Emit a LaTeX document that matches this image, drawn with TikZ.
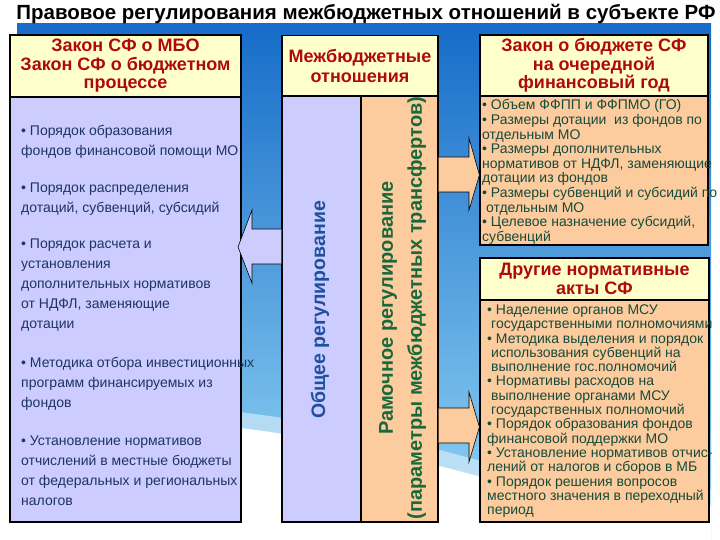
\documentclass[tikz,border=0pt]{standalone}
\usepackage{fontspec}
\setmainfont{Liberation Sans}
\usetikzlibrary{positioning,calc}
\definecolor{hdryellow}{RGB}{255,255,204}
\definecolor{lilac}{RGB}{204,204,255}
\definecolor{peach}{RGB}{253,204,158}
\definecolor{hdrred}{RGB}{175,10,10}
\definecolor{txtblue}{RGB}{30,52,100}
\definecolor{txtgreen}{RGB}{22,74,58}
\definecolor{genblue}{RGB}{30,80,160}
\definecolor{framegreen}{RGB}{25,105,60}
\definecolor{skytop}{RGB}{22,108,200}
\definecolor{skymid}{RGB}{60,152,225}
\definecolor{skybot}{RGB}{150,215,246}

\begin{document}
\begin{tikzpicture}[x=1pt,y=-1pt,
    box/.style={draw=black,line width=1.2pt,inner sep=0pt},
    hdr/.style={box,fill=hdryellow,text=hdrred,align=center,
      font=\fontsize{18}{18.5}\selectfont\bfseries},
    item/.style={anchor=north west,inner sep=0pt,align=left,text=txtblue,
      font=\fontsize{14}{20}\selectfont},
    ritem/.style={anchor=north west,inner sep=0pt,align=left,text=txtgreen,
      font=\fontsize{14}{14.6}\selectfont},
    arrowline/.style={draw=black,line width=0.6pt}]
        \useasboundingbox (0,0) rectangle (720,540);

        % background
        \shade[top color=skytop,middle color=skymid,bottom color=skybot] (17,24) rectangle (711,540);
        \fill[white,opacity=0.45] (17,405) .. controls (150,396) and (300,412) .. (470,458)
            .. controls (560,482) and (650,488) .. (711,490) -- (711,540) -- (17,540) -- cycle;
        \fill[white] (17,420) .. controls (150,412) and (300,428) .. (470,474)
            .. controls (560,498) and (650,504) .. (711,506) -- (711,540) -- (17,540) -- cycle;

        \node[font=\fontsize{20.5}{22}\selectfont\bfseries] (title) at (366,14)
            {Правовое регулирования межбюджетных отношений в субъекте РФ};

        % left column
        \node[hdr,minimum width=231pt,minimum height=62pt] (lawhdr) at (125.5,66)
            {Закон СФ о МБО\\Закон СФ о бюджетном\\процессе};
        \node[box,fill=lilac,minimum width=231pt,minimum height=425pt] (lawbody) at (125.5,309.5) {};

        % middle column
        \node[hdr,minimum width=156pt,minimum height=61pt,
              font=\fontsize{18}{20}\selectfont\bfseries] (mbhdr) at (360,66) {Межбюджетные\\отношения};
        \node[box,fill=lilac,rotate=90,minimum width=426pt,minimum height=79pt] (gen) at (321.5,309) {};
        \node[box,fill=peach,rotate=90,minimum width=426pt,minimum height=77pt] (frame) at (399.5,309) {};
        \node[rotate=90,text=genblue,font=\fontsize{19.5}{20}\selectfont\bfseries] (gentext) at (320,310)
            {Общее регулирование};
        \node[rotate=90,text=framegreen,align=center,font=\fontsize{20}{29}\selectfont\bfseries]
            (frametext) at (402.5,308) {Рамочное регулирование\\(параметры межбюджетных трансфертов)};

        % right column
        \node[hdr,minimum width=228pt,minimum height=61pt] (budhdr) at (594,65.5)
            {Закон о бюджете СФ\\на очередной\\финансовый год};
        \node[box,fill=peach,minimum width=228pt,minimum height=149pt] (budbody) at (594,170.5) {};
        \node[hdr,minimum width=229pt,minimum height=42pt] (othhdr) at (594.5,279) {Другие нормативные\\акты СФ};
        \node[box,fill=peach,minimum width=229pt,minimum height=222pt] (othbody) at (594.5,411) {};

        % block arrows
        \fill[lilac] (gen.north |- 0,229) -- (252,229) -- (252,210) -- (238,247)
            -- (252,283) -- (252,264) -- (gen.north |- 0,264) -- cycle;
        \draw[arrowline] (gen.north |- 0,229) -- (252,229) -- (252,210) -- (238,247)
            -- (252,283) -- (252,264) -- (gen.north |- 0,264);
        \fill[peach] (frame.south |- 0,157) -- (469,157) -- (469,138) -- (budbody.west |- 0,175)
            -- (469,210) -- (469,192) -- (frame.south |- 0,192) -- cycle;
        \draw[arrowline] (frame.south |- 0,157) -- (469,157) -- (469,138) -- (budbody.west |- 0,175)
            -- (469,210) -- (469,192) -- (frame.south |- 0,192);
        \fill[peach] (frame.south |- 0,408) -- (469,408) -- (469,392) -- (othbody.west |- 0,427)
            -- (469,462) -- (469,443) -- (frame.south |- 0,443) -- cycle;
        \draw[arrowline] (frame.south |- 0,408) -- (469,408) -- (469,392) -- (othbody.west |- 0,427)
            -- (469,462) -- (469,443) -- (frame.south |- 0,443);

        % left box items
        \node[item] (form) at (21,125.5) {• Порядок образования\\ фондов финансовой помощи МО};
        \node[item] (distr) at (21,183) {• Порядок распределения\\ дотаций, субвенций, субсидий};
        \node[item] (calc) at (21,239) {• Порядок расчета и\\ установления\\ дополнительных нормативов\\ от НДФЛ, заменяющие\\ дотации};
        \node[item] (invest) at (21,357) {• Методика отбора инвестиционных\\ программ финансируемых из\\ фондов};
        \node[item] (deduct) at (21,435.5) {• Установление нормативов\\ отчислений в местные бюджеты\\ от федеральных и региональных\\ налогов};

        % budget law items
        \node[ritem] (budlist) at (482,99.5) {• Объем ФФПП и ФФПМО (ГО)\\
            • Размеры дотации\ \ из фондов по\\
            отдельным МО\\
            • Размеры дополнительных\\
            нормативов от НДФЛ, заменяющие\\
            дотации из фондов\\
            • Размеры субвенций и субсидий по\\
            \ отдельным МО\\
            • Целевое назначение субсидий,\\
            субвенций};

        % other acts items
        \node[ritem,font=\fontsize{14}{14.3}\selectfont] (othlist) at (487,304.5) {• Наделение органов МСУ\\
            \hspace*{4pt}государственными полномочиями\\
            • Методика выделения и порядок\\
            \hspace*{4pt}использования субвенций на\\
            \hspace*{4pt}выполнение гос.полномочий\\
            • Нормативы расходов на\\
            \hspace*{4pt}выполнение органами МСУ\\
            \hspace*{4pt}государственных полномочий\\
            • Порядок образования фондов\\
            финансовой поддержки МО\\
            • Установление нормативов отчис-\\
            лений от налогов и сборов в МБ\\
            • Порядок решения вопросов\\
            местного значения в переходный\\
            период};
\end{tikzpicture}
\end{document}
